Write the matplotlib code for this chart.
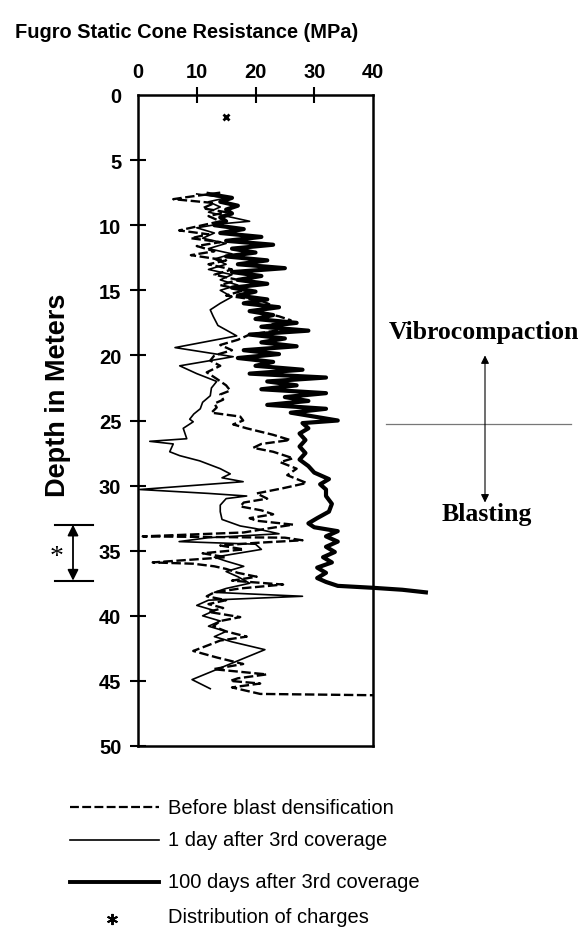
import numpy as np
import matplotlib
matplotlib.use("Agg")
import matplotlib.pyplot as plt
from matplotlib.lines import Line2D
from matplotlib.transforms import blended_transform_factory

# cone resistance profiles (depth in m, qc in MPa)
before_depth = [7.5, 7.8, 8.0, 8.3, 8.7, 9.0, 9.3, 9.7, 10.0, 10.4, 10.7, 11.0, 11.3, 11.6,
                12.0, 12.3, 12.7, 13.0, 13.4, 13.8, 14.2, 14.6, 15.0, 15.4, 15.8, 16.2, 16.6,
                17.0, 17.3, 17.7, 18.0, 18.4, 18.8, 19.2, 19.6, 20.0, 20.4, 20.8, 21.3, 21.8,
                22.3, 22.7, 23.0, 23.4, 23.7, 24.0, 24.4, 24.7, 25.0, 25.3, 25.6, 26.1, 26.5,
                26.8, 27.1, 27.4, 27.9, 28.2, 28.7, 29.2, 29.8, 30.2, 30.6, 31.0, 31.3, 31.6,
                31.9, 32.2, 32.5, 32.7, 33.0, 33.3, 33.6, 33.9, 34.0, 34.2, 34.4, 34.6, 34.9,
                35.2, 35.5, 35.9, 36.0, 36.2, 36.4, 36.7, 37.0, 37.3, 37.6, 37.9, 38.2, 38.5,
                38.8, 39.1, 39.4, 39.7, 40.1, 40.4, 40.8, 41.2, 41.6, 41.9, 42.2, 42.7, 43.2,
                43.7, 44.1, 44.5, 44.8, 45.0, 45.2, 45.5, 45.7, 46.0, 46.1]
before_qc = [14, 9, 6, 13, 11, 15, 12, 14, 11, 7, 12, 9, 14, 10,
             13, 9, 15, 12, 16, 13, 17, 14, 18, 15, 21, 23, 20,
             24, 26, 22, 25, 19, 17, 14, 16, 13, 12.3, 14, 11.7, 13.4,
             15, 15.7, 14, 14.5, 13, 13.4, 12.5, 17.4, 17.9, 16.2, 18.5, 23, 25.9,
             21, 19.6, 23, 26.4, 24.2, 27, 25.4, 28.7, 24.7, 20.2, 22, 18, 17.4,
             21, 23, 19, 20.2, 26.4, 22, 18, 0.8, 25, 28, 20, 14, 18,
             11, 15, 2.5, 9.4, 13, 15, 17, 20.2, 16, 24.7, 17.4, 13, 11.7,
             15, 12, 14.5, 12, 17.4, 14, 12.8, 15, 18.5, 14, 12.3, 9.4, 13.4,
             17.9, 12.8, 21.9, 17, 15.7, 20.8, 16, 17.9, 20.8, 40]

day1_depth = [7.6, 7.9, 8.2, 8.6, 9.0, 9.4, 9.7, 9.9, 10.2, 10.6, 11.0, 11.4, 11.8, 12.2,
              12.6, 13.0, 13.4, 13.8, 14.2, 14.6, 15.0, 15.5, 16.0, 16.5, 17.0, 17.7, 18.5,
              19.4, 20.1, 20.8, 21.4, 22.0, 22.5, 23.1, 23.6, 24.1, 24.5, 24.9, 25.1, 25.6,
              26.4, 26.6, 26.8, 27.4, 27.7, 28.1, 28.7, 29.1, 29.4, 29.7, 30.3, 30.6, 30.8,
              31.0, 31.5, 32.0, 32.6, 33.1, 33.3, 33.7, 34.0, 34.3, 34.5, 34.9, 35.2, 35.5,
              35.8, 36.2, 36.6, 37.0, 37.5, 37.9, 38.2, 38.5, 38.8, 39.2, 39.6, 40.0, 40.4,
              40.8, 41.2, 41.6, 42.0, 42.6, 44.9, 45.6]
day1_qc = [10, 15, 12, 14, 12, 16, 19, 14, 10, 13, 11, 15, 12, 16,
           13, 15, 12, 16, 14, 17, 14, 16, 14, 12.3, 12.8, 13.6, 16.8,
           6.3, 16.2, 7.1, 10, 13.4, 12.5, 12.3, 11, 10.6, 9.5, 8.8, 9.4, 7.7,
           8.3, 2.0, 6.0, 5.4, 7.1, 10.5, 14, 15.7, 14.3, 17.9, 0.3, 12, 18.5,
           15, 14, 14, 14.3, 17.4, 20, 24, 12, 7, 20, 21, 17, 13,
           15, 18, 15, 17, 19, 15, 13, 28, 12, 10, 13, 11, 14,
           12, 15, 13, 16, 21.6, 9.2, 12.3]

day100_depth = [7.6, 7.9, 8.2, 8.5, 8.8, 9.1, 9.4, 9.7, 10.0, 10.3, 10.6, 10.9, 11.2, 11.5,
                11.8, 12.1, 12.4, 12.7, 13.0, 13.3, 13.6, 13.9, 14.2, 14.5, 14.8, 15.1, 15.4,
                15.7, 16.0, 16.3, 16.6, 16.9, 17.2, 17.5, 17.8, 18.1, 18.4, 18.7, 19.0, 19.3,
                19.6, 19.9, 20.2, 20.5, 20.8, 21.1, 21.4, 21.7, 22.0, 22.3, 22.6, 22.9, 23.2,
                23.5, 23.8, 24.1, 24.4, 24.7, 25.0, 25.2, 25.6, 26.0, 26.5, 27.0, 27.5, 28.0,
                28.5, 29.0, 29.5, 29.9, 30.3, 30.8, 31.4, 32.0, 32.5, 32.9, 33.2, 33.5, 33.9,
                34.3, 34.7, 35.1, 35.5, 35.9, 36.3, 36.7, 37.1, 37.4, 37.7, 37.85, 38.0, 38.2]
day100_qc = [12, 16, 14, 17, 15, 16, 14, 15, 13, 18, 14, 21, 15, 23,
             16, 20, 15, 22, 17, 25, 16, 21, 17, 22, 16, 20, 17,
             22, 18, 24, 19, 23, 20, 27, 21, 29, 19, 25, 21, 27,
             18, 24, 17, 23, 20, 28, 19, 32, 22, 27, 21, 32, 25,
             29, 22, 32, 26, 30, 34, 28, 29, 27.5, 28.5, 27.5, 28.5, 27.5,
             29, 30, 32.5, 31, 32, 32, 33, 32.5, 30.5, 29, 30, 34, 32,
             34, 32, 33.5, 31.5, 33, 30.5, 32, 30.5, 32, 34, 40, 45, 49]

charge_mark = (15, 1.7)       # small charge marker near surface
charge_zone = (33.0, 37.3)    # depth range of charges
method_boundary = 25.3        # vibrocompaction above / blasting below

legend_labels = ["Before blast densification", "1 day after 3rd coverage",
                 "100 days after 3rd coverage", "Distribution of charges"]

W, H = 582, 929


def fx(px):
    return px / W


def fy(py):
    return 1 - py / H


fig = plt.figure(figsize=(W / 100, H / 100), dpi=100)
ax = fig.add_axes([fx(138), fy(747), fx(373) - fx(138), fy(96) - fy(747)])

sans = "Liberation Sans"
serif = "Liberation Serif"

ax.plot(before_qc, before_depth, color="black", lw=1.7, dashes=(4, 1.5), clip_on=False)
ax.plot(day1_qc, day1_depth, color="black", lw=1.2, clip_on=False)
ax.plot(day100_qc, day100_depth, color="black", lw=3.0, clip_on=False)
ax.plot(*charge_mark, marker="x", color="black", ms=5, mew=2)

ax.set_xlim(0, 40)
ax.set_ylim(50, 0)
ax.xaxis.tick_top()
ax.set_xticks([0, 10, 20, 30, 40])
ax.set_yticks(np.arange(0, 51, 5))
ax.tick_params(direction="inout", length=12, width=1.5, labelsize=14.5, pad=4)
ax.tick_params(axis="y", pad=6)
ax.xaxis.get_major_ticks()[0].tick2line.set_visible(False)
ax.xaxis.get_major_ticks()[-1].tick2line.set_visible(False)
ax.yaxis.get_major_ticks()[0].tick1line.set_visible(False)
for lab in ax.get_xticklabels() + ax.get_yticklabels():
    lab.set_fontfamily(sans)
    lab.set_fontweight("bold")
for sp in ax.spines.values():
    sp.set_linewidth(1.8)

fig.text(fx(15), fy(33), "Fugro Static Cone Resistance (MPa)", fontsize=14.4,
         fontweight="bold", family=sans, ha="left", va="center")
fig.text(fx(58), fy(395), "Depth in Meters", fontsize=19.5, fontweight="bold",
         family=sans, rotation=90, ha="center", va="center")

# right hand annotation: boundary between methods
tr = blended_transform_factory(fig.transFigure, ax.transData)
ax.plot([fx(386), fx(571)], [method_boundary] * 2, color="#777777", lw=0.9,
        transform=tr, clip_on=False)
ax.annotate("", xy=(fx(485), method_boundary - 5.3), xytext=(fx(485), method_boundary + 6.0),
            xycoords=tr, textcoords=tr, annotation_clip=False,
            arrowprops=dict(arrowstyle="<|-|>", color="black", lw=0.8, mutation_scale=12,
                            shrinkA=0, shrinkB=0))
fig.text(fx(484), fy(333), "Vibrocompaction", fontsize=18.5, fontweight="bold",
         family=serif, ha="center", va="center")
fig.text(fx(487), fy(515), "Blasting", fontsize=18.5, fontweight="bold",
         family=serif, ha="center", va="center")

# left hand bracket: charge zone
for d in charge_zone:
    ax.plot([fx(55), fx(93)], [d, d], color="black", lw=1.5, transform=tr, clip_on=False)
ax.annotate("", xy=(fx(73), charge_zone[0]), xytext=(fx(73), charge_zone[1]),
            xycoords=tr, textcoords=tr, annotation_clip=False,
            arrowprops=dict(arrowstyle="<|-|>", color="black", lw=1.3, mutation_scale=16,
                            shrinkA=0, shrinkB=0))
ax.text(fx(57), sum(charge_zone) / 2 + 0.3, "*", transform=tr, fontsize=20,
        family=serif, ha="center", va="center")

# legend drawn by hand below the plot
rows = [808, 841, 883, 918]
styles = [dict(lw=1.6, dashes=(4, 1.5)), dict(lw=1.2), dict(lw=2.8)]
for py, st in zip(rows[:3], styles):
    fig.add_artist(Line2D([fx(70), fx(159)], [fy(py), fy(py)], color="black", **st))
fig.add_artist(Line2D([fx(112)], [fy(920)], marker=(6, 2, 0), ms=8, mew=1.4,
                      color="black", linestyle="none"))
for py, lab in zip(rows, legend_labels):
    fig.text(fx(168), fy(py), lab, fontsize=14.5, family=sans, ha="left", va="center")

fig.savefig("out.png", dpi=100)
